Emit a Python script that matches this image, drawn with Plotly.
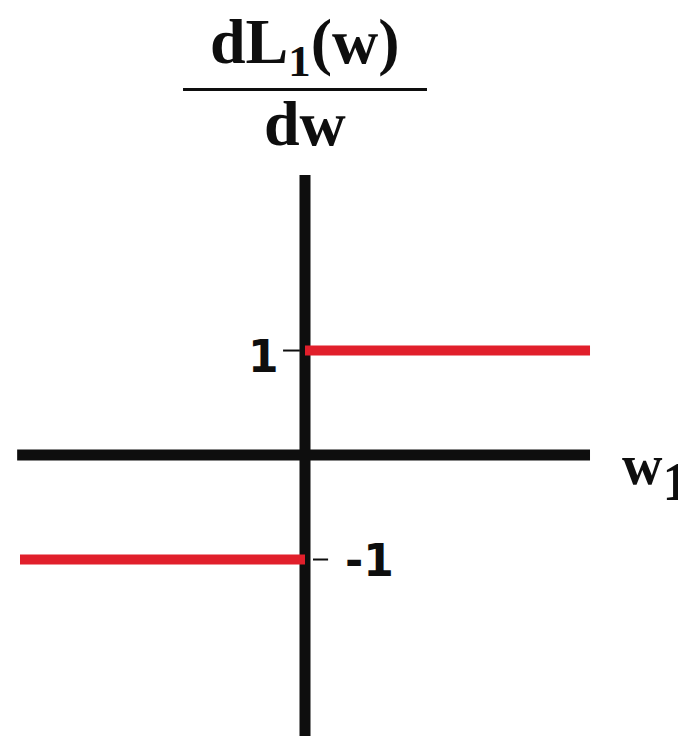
import plotly.graph_objs as go

# derivative of the L1 penalty: sign(w)
w_neg = [-1.0, 0.0]
grad_neg = [-1, -1]
w_pos = [0.0, 1.0]
grad_pos = [1, 1]

tick_vals = [1, -1]
tick_text = ['1', '-1']

x_title = "<span style='font-size:56px'>w</span><sub>1</sub>"
y_num = 'dL<sub>1</sub>(w)'
y_den = 'dw'

BLACK = '#0e0e0e'
RED = '#E11F2B'

fig = go.Figure()

# axes drawn as thick lines
fig.add_trace(go.Scatter(x=[-1.01, 1.0], y=[0, 0], mode='lines',
                         line=dict(color=BLACK, width=11), hoverinfo='skip'))
fig.add_trace(go.Scatter(x=[0, 0], y=[-2.75, 2.68], mode='lines',
                         line=dict(color=BLACK, width=11), hoverinfo='skip'))

# gradient
fig.add_trace(go.Scatter(x=w_neg, y=grad_neg, mode='lines',
                         line=dict(color=RED, width=10)))
fig.add_trace(go.Scatter(x=w_pos, y=grad_pos, mode='lines',
                         line=dict(color=RED, width=10)))

# small tick marks: "1" on the left side, "-1" on the right side
tick_x = {1: [-0.077, -0.018], -1: [0.028, 0.081]}
label_x = {1: -0.144, -1: 0.225}
label_dy = {1: -0.053, -1: -0.005}
for v, t in zip(tick_vals, tick_text):
    fig.add_trace(go.Scatter(x=tick_x[v], y=[v, v], mode='lines',
                             line=dict(color=BLACK, width=2), hoverinfo='skip'))
    fig.add_annotation(x=label_x[v], y=v + label_dy[v], text='<b>%s</b>' % t,
                       showarrow=False,
                       font=dict(family='DejaVu Sans', size=44, color=BLACK))

# fraction label for the vertical axis
fig.add_annotation(x=0, y=3.91, text='<b>%s</b>' % y_num, showarrow=False,
                   font=dict(family='Liberation Serif', size=64, color=BLACK))
fig.add_trace(go.Scatter(x=[-0.428, 0.428], y=[3.498, 3.498], mode='lines',
                         line=dict(color=BLACK, width=3), hoverinfo='skip'))
fig.add_annotation(x=0, y=3.172, text='<b>%s</b>' % y_den, showarrow=False,
                   font=dict(family='Liberation Serif', size=64, color=BLACK))

fig.add_annotation(x=1.105, y=-0.17, text='<b>%s</b>' % x_title,
                   showarrow=False, xanchor='left',
                   font=dict(family='Liberation Serif', size=78, color=BLACK))

fig.update_layout(
    width=678, height=728,
    margin=dict(l=0, r=0, t=0, b=0),
    paper_bgcolor='white', plot_bgcolor='white',
    showlegend=False,
)
fig.update_xaxes(range=[-1.0421, 1.3368], visible=False)
fig.update_yaxes(range=[-2.689, 4.278], visible=False)

fig.write_html("out.html")
